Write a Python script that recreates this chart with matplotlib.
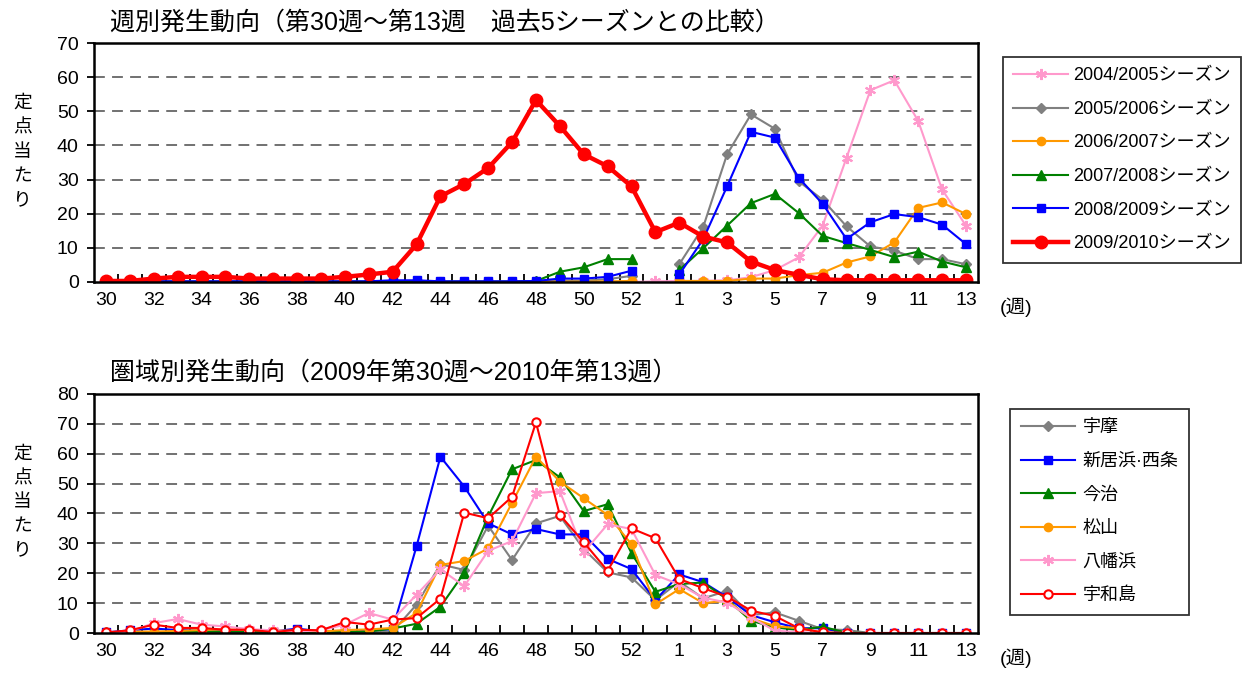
import numpy as np
import matplotlib
matplotlib.use('Agg')
import matplotlib.pyplot as plt
from matplotlib.ticker import FixedLocator, NullFormatter

plt.rcParams['font.family'] = ['Liberation Sans', 'Noto Sans CJK JP', 'DejaVu Sans']

nan = np.nan

# weeks: 30..53 (2009), 1..13 (2010)
weeks = list(range(30, 54)) + list(range(1, 14))
tick_labels = [str(w) if i % 2 == 0 else '' for i, w in enumerate(weeks)]

# --- top: past 5 seasons ---
s0405 = [0.0]*23 + [0.2] + [0.3, 0.3, 0.5, 1.4, 3.5, 7.2, 16.5, 36.4, 56.2, 59.1, 47.2, 27.1, 16.5]
s0506 = [0.1]*18 + [0.3, 0.4, 0.4, 0.8, 1.8, nan] + [5.2, 16.1, 37.4, 49.1, 44.9, 29.5, 24.1, 16.3, 10.4, 9.2, 6.7, 6.7, 5.2]
s0607 = [0.0]*18 + [0.1, 0.1, 0.1, 0.2, 0.3, nan] + [0.3, 0.3, 0.3, 1.0, 1.0, 2.0, 2.7, 5.7, 7.5, 11.6, 21.7, 23.3, 19.9]
s0708 = [0.1]*18 + [0.3, 3.0, 4.3, 6.7, 6.7, nan] + [3.5, 9.9, 16.5, 23.1, 25.8, 20.2, 13.5, 11.4, 9.4, 7.3, 8.9, 6.0, 4.3]
s0809 = [0.2]*12 + [0.5, 0.5, 0.2, 0.2, 0.2, 0.2, 0.3, 1.0, 1.0, 1.5, 3.3, nan] + [2.2, 12.5, 28.0, 44.0, 42.3, 30.5, 22.9, 12.6, 17.5, 19.9, 19.0, 16.8, 11.1]
s0910 = [0.3, 0.3, 1.0, 1.5, 1.5, 1.5, 1.0, 1.0, 1.0, 1.0, 1.5, 2.2, 3.0, 11.0,
         25.1, 28.7, 33.4, 41.0, 53.3, 45.7, 37.4, 33.9, 28.0, 14.6,
         17.4, 13.3, 11.6, 6.0, 3.5, 2.1, 0.8, 0.5, 0.5, 0.5, 0.5, 0.5, 0.5]

season_names = ['2004/2005シーズン', '2005/2006シーズン', '2006/2007シーズン',
                '2007/2008シーズン', '2008/2009シーズン', '2009/2010シーズン']

# --- bottom: regions 2009/2010 ---
uma = [0.1]*12 + [0.5, 9.5, 23.0, 21.1, 35.9, 24.4, 36.7, 39.2, 28.1, 20.3, 18.6, 11.0,
       17.2, 11.6, 14.1, 6.0, 6.9, 4.1, 1.3, 1.0, 0, 0, 0, 0, 0]
niihama = [0.2, 0.9, 1.5, 1.0, 0.8, 0.6, 0.5, 0.5, 1.5, 0.5, 0.3, 0.8, 1.3, 29.0,
           59.0, 49.0, 36.7, 33.0, 34.8, 33.0, 33.0, 24.8, 21.4, 11.0,
           19.6, 17.0, 12.0, 6.0, 3.6, 1.6, 1.6, 0, 0, 0, 0, 0, 0]
imabari = [0.2, 0.3, 0.3, 0.3, 0.5, 0.5, 0.5, 0.3, 0.3, 0.3, 0.5, 0.5, 1.5, 3.1,
           8.8, 20.2, 39.0, 54.8, 57.9, 52.1, 40.8, 43.1, 26.7, 13.8,
           16.4, 16.9, 11.3, 4.1, 1.9, 1.0, 2.1, 0.1, 0, 0, 0, 0, 0]
matsuyama = [0.2, 0.5, 0.5, 0.7, 1.0, 1.2, 1.0, 0.8, 0.8, 0.5, 1.0, 1.2, 1.7, 6.7,
             22.8, 24.1, 28.3, 43.6, 59.0, 50.7, 45.1, 39.5, 29.7, 9.6,
             14.7, 10.0, 10.8, 4.9, 2.3, 1.6, 0.2, 0, 0, 0, 0, 0, 0]
yawatahama = [0.0, 0.5, 3.3, 4.7, 2.8, 2.2, 1.3, 0.9, 0.5, 0.9, 2.8, 6.7, 4.5, 12.8,
              21.3, 15.7, 27.5, 30.8, 46.8, 47.5, 27.0, 36.4, 34.8, 19.4,
              16.3, 11.8, 10.2, 5.2, 0.8, 0.3, 0, 0, 0, 0, 0, 0, 0]
uwajima = [0.2, 0.9, 2.8, 1.7, 1.7, 1.1, 1.1, 0.3, 1.1, 0.9, 3.7, 2.8, 4.5, 5.0,
           11.5, 40.3, 38.4, 45.6, 70.5, 39.5, 30.4, 20.8, 35.0, 31.7,
           18.1, 15.0, 12.2, 7.5, 5.7, 1.6, 0.2, 0, 0, 0, 0, 0, 0]

region_names = ['宇摩', '新居浜·西条', '今治', '松山', '八幡浜', '宇和島']

x = np.arange(len(weeks))
ast = (6, 2, 0)

fig = plt.figure(figsize=(12.47, 6.73), dpi=100)
ax1 = fig.add_axes([0.0754, 0.581, 0.7088, 0.355])
ax2 = fig.add_axes([0.0754, 0.0594, 0.7088, 0.3552])


def style_axis(ax, ymax):
    ax.set_xlim(-0.5, len(weeks) - 0.5)
    ax.set_ylim(0, ymax)
    ax.set_yticks(np.arange(0, ymax + 1, 10))
    ax.set_xticks(x)
    ax.set_xticklabels(tick_labels)
    ax.xaxis.set_minor_locator(FixedLocator(x[:-1] + 0.5))
    ax.xaxis.set_minor_formatter(NullFormatter())
    ax.tick_params(axis='x', which='major', length=0, labelsize=14, pad=7)
    ax.tick_params(axis='x', which='minor', direction='in', length=6, width=1.3)
    ax.tick_params(axis='y', direction='out', length=5, width=1.3, labelsize=14, pad=6)
    for sp in ax.spines.values():
        sp.set_linewidth(1.8)
    for v in np.arange(10, ymax, 10):
        ax.axhline(v, color='#666666', lw=1.3, ls=(0, (6, 4)), zorder=0)
    ax.text(1.025, -0.105, '(週)', transform=ax.transAxes, fontsize=14,
            va='center', ha='left')


style_axis(ax1, 70)
style_axis(ax2, 80)

# top chart
ax1.plot(x, s0405, color='#ff99cc', lw=1.5, marker=ast, ms=8, mew=1.5, label=season_names[0])
ax1.plot(x, s0506, color='#808080', lw=1.5, marker='D', ms=5, label=season_names[1])
ax1.plot(x, s0607, color='#ff9900', lw=1.5, marker='o', ms=6, label=season_names[2])
ax1.plot(x, s0708, color='#008000', lw=1.5, marker='^', ms=7, label=season_names[3])
ax1.plot(x, s0809, color='#0000ff', lw=1.5, marker='s', ms=6, label=season_names[4])
ax1.plot(x, s0910, color='#ff0000', lw=3.2, marker='o', ms=9, label=season_names[5])

fig.text(0.0885, 0.966, '週別発生動向（第30週～第13週　過去5シーズンとの比較）',
         fontsize=18, va='center', ha='left')
fig.text(0.0885, 0.446, '圏域別発生動向（2009年第30週～2010年第13週）',
         fontsize=18, va='center', ha='left')

ylab = '\n'.join('定点当たり')
fig.text(0.018, 0.774, ylab, fontsize=13.5, va='center', ha='center', linespacing=1.55)
fig.text(0.018, 0.253, ylab, fontsize=13.5, va='center', ha='center', linespacing=1.55)

leg1 = ax1.legend(loc='upper left', bbox_to_anchor=(0.804, 0.916), bbox_transform=fig.transFigure,
                  fontsize=13, frameon=True, fancybox=False, edgecolor='black',
                  borderpad=0.6, labelspacing=0.92, handlelength=3.0, handletextpad=0.3,
                  borderaxespad=0)
leg1.get_frame().set_linewidth(1.3)

# bottom chart
ax2.plot(x, uma, color='#808080', lw=1.5, marker='D', ms=5, label=region_names[0])
ax2.plot(x, niihama, color='#0000ff', lw=1.5, marker='s', ms=6, label=region_names[1])
ax2.plot(x, imabari, color='#008000', lw=1.5, marker='^', ms=7, label=region_names[2])
ax2.plot(x, matsuyama, color='#ff9900', lw=1.5, marker='o', ms=6, label=region_names[3])
ax2.plot(x, yawatahama, color='#ff99cc', lw=1.5, marker=ast, ms=8, mew=1.5, label=region_names[4])
ax2.plot(x, uwajima, color='#ff0000', lw=1.5, marker='o', ms=6, mfc='white', mew=1.5,
         label=region_names[5])

leg2 = ax2.legend(loc='upper left', bbox_to_anchor=(0.81, 0.393), bbox_transform=fig.transFigure,
                  fontsize=13, frameon=True, fancybox=False, edgecolor='black',
                  borderpad=0.6, labelspacing=0.92, handlelength=3.0, handletextpad=0.4,
                  borderaxespad=0)
leg2.get_frame().set_linewidth(1.3)

fig.savefig('out.png', dpi=100)
